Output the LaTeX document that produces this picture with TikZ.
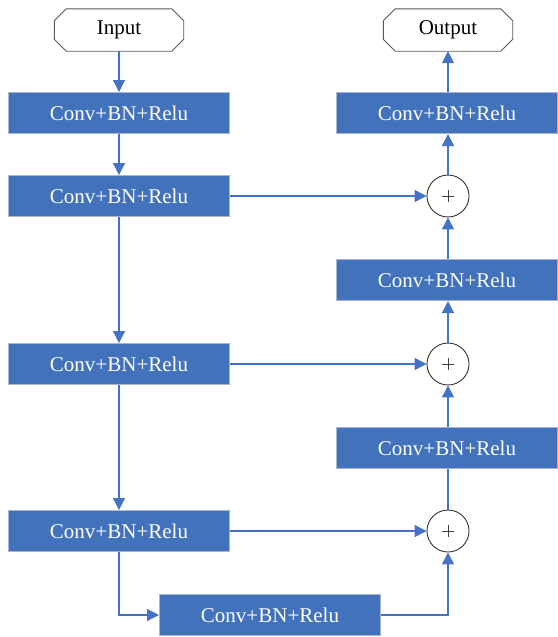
\documentclass[tikz,border=0pt]{standalone}
\usepackage{fontspec}
\setmainfont{Liberation Serif}
\usetikzlibrary{arrows.meta,calc}
\definecolor{boxblue}{HTML}{4272BC}
\definecolor{boxedge}{HTML}{A9B7CC}
\definecolor{lineblue}{HTML}{4472C4}
\tikzset{
  convbox/.style={rectangle, fill=boxblue, draw=boxedge, line width=1pt, minimum width=221pt, minimum height=41pt, inner sep=0pt, text=white, font=\fontsize{21}{21}\selectfont},
  terminal/.style={rectangle, minimum width=129pt, minimum height=42pt, inner sep=0pt, font=\fontsize{21}{21}\selectfont},
  octo/.style={draw=black!65, line width=0.9pt, fill=white},
  sumnode/.style={circle, draw=black!80, line width=0.9pt, fill=white, minimum size=42pt, inner sep=0pt},
  conn/.style={draw=lineblue, line width=1.2pt},
  arr/.style={conn, -{Triangle[length=12pt,width=12pt]}},
}
\newcommand{\octagonof}[1]{%
  \draw[octo] ($(#1.north west)+(12,0)$) -- ($(#1.north east)+(-12,0)$) -- ($(#1.north east)+(0,12)$)
    -- ($(#1.south east)+(0,-12)$) -- ($(#1.south east)+(-12,0)$) -- ($(#1.south west)+(12,0)$)
    -- ($(#1.south west)+(0,-12)$) -- ($(#1.north west)+(0,12)$) -- cycle;}
\begin{document}
\begin{tikzpicture}[x=1pt,y=-1pt]
\useasboundingbox (0,0) rectangle (557,637);
\node[terminal] (in) at (119,30) {};
\node[terminal] (out) at (448,30) {};
\octagonof{in}
\octagonof{out}
\node[terminal] at (in.center) {Input};
\node[terminal] at (out.center) {Output};
\node[convbox] (l1) at (119,113) {Conv+BN+Relu};
\node[convbox] (l2) at (119,196) {Conv+BN+Relu};
\node[convbox] (l3) at (119,364) {Conv+BN+Relu};
\node[convbox] (l4) at (119,531) {Conv+BN+Relu};
\node[convbox] (bt) at (270,615) {Conv+BN+Relu};
\node[convbox] (r1) at (447,113) {Conv+BN+Relu};
\node[convbox] (r2) at (447,280) {Conv+BN+Relu};
\node[convbox] (r3) at (447,448) {Conv+BN+Relu};
\node[sumnode] (c1) at (448,196) {};
\node[sumnode] (c2) at (448,364) {};
\node[sumnode] (c3) at (448,531) {};
\foreach \c in {c1,c2,c3}{
  \draw[black!75, line width=0.6pt] ([xshift=-6pt]\c.center) -- ([xshift=6pt]\c.center)
    ([yshift=-6pt]\c.center) -- ([yshift=6pt]\c.center);
}
\draw[arr] (in.south) -- (l1.north);
\draw[arr] (l1.south) -- (l2.north);
\draw[arr] (l2.south) -- (l3.north);
\draw[arr] (l3.south) -- (l4.north);
\draw[arr] (l4.south) |- (bt.west);
\draw[arr] (bt.east) -| (c3.south);
\draw[conn] (c3.north) -- (r3.south -| c3.north);
\draw[arr] (r3.north -| c2.south) -- (c2.south);
\draw[arr] (c2.north) -- (r2.south -| c2.north);
\draw[arr] (r2.north -| c1.south) -- (c1.south);
\draw[arr] (c1.north) -- (r1.south -| c1.north);
\draw[arr] (r1.north -| out.south) -- (out.south);
\draw[arr] (l2.east) -- (c1.west);
\draw[arr] (l3.east) -- (c2.west);
\draw[arr] (l4.east) -- (c3.west);
\end{tikzpicture}
\end{document}
